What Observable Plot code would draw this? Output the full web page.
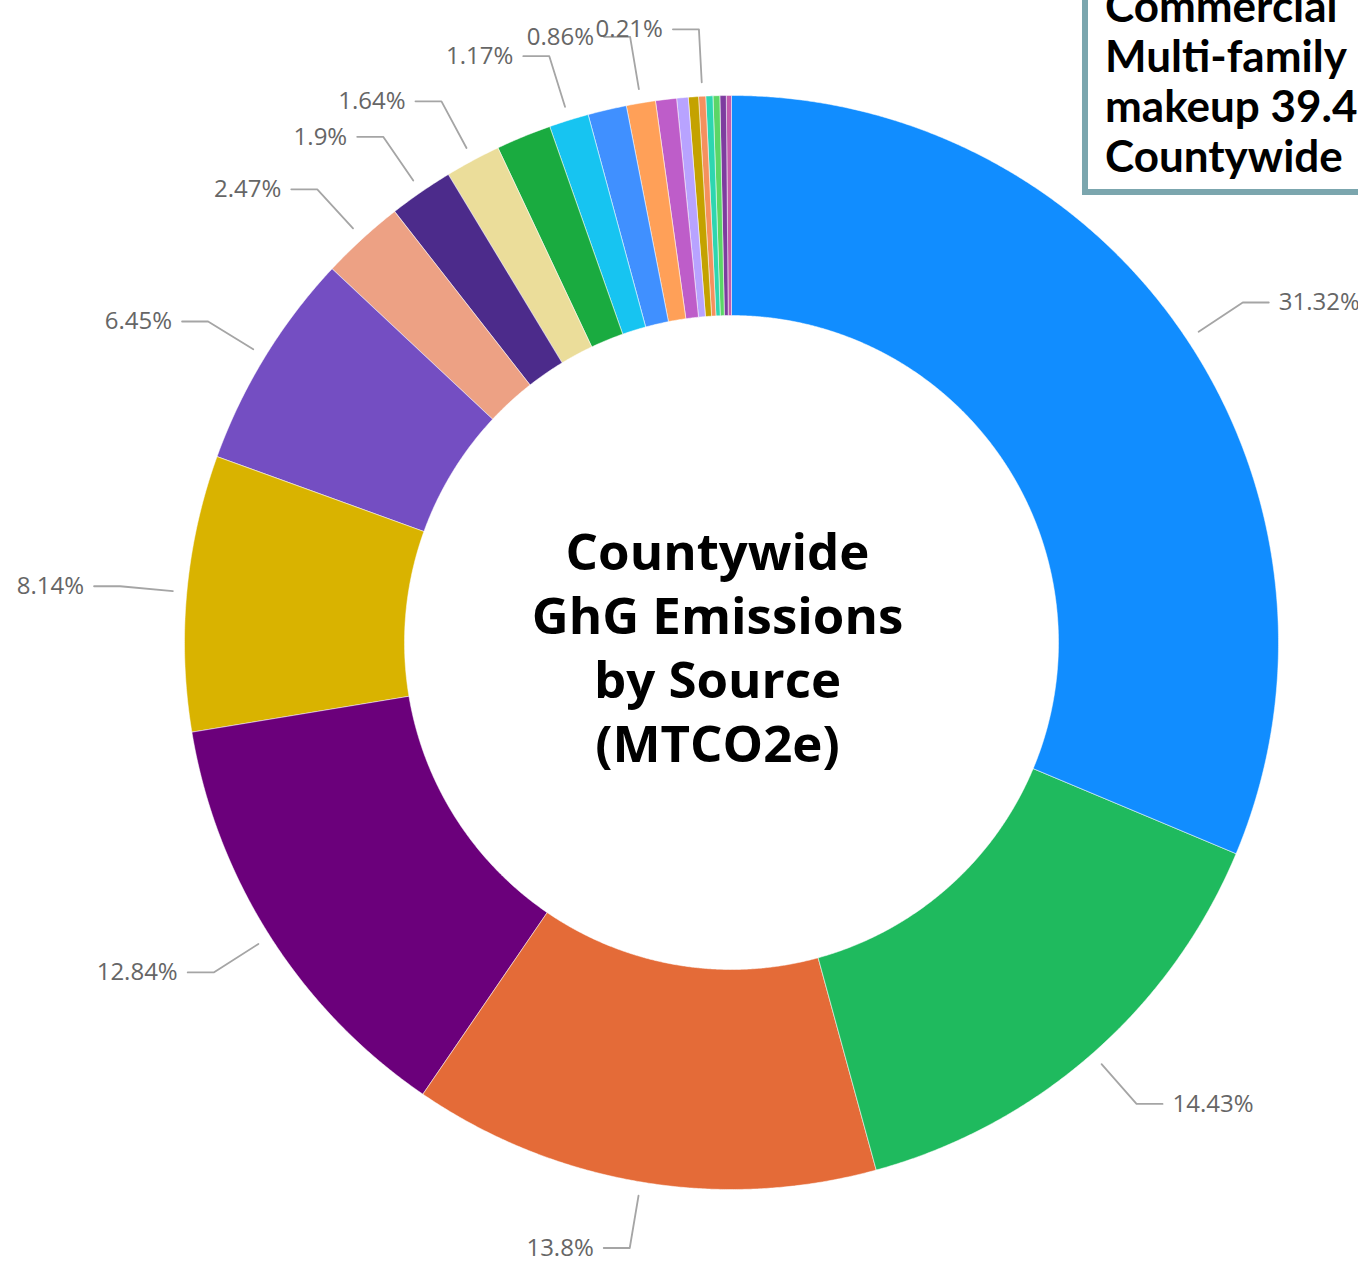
<!DOCTYPE html>
<html>
<head>
<meta charset="utf-8">
<script src="https://cdn.jsdelivr.net/npm/d3@7"></script>
<script src="https://cdn.jsdelivr.net/npm/@observablehq/plot@0.6"></script>
<style>
  html, body { margin: 0; padding: 0; background: #fff; }
  body { width: 1358px; height: 1268px; overflow: hidden; position: relative; }
  #chart { position: absolute; left: 0; top: 0; }
  .note {
    position: absolute; left: 1082px; top: -40px; width: 420px; height: 235px;
    box-sizing: border-box; border: 6px solid #7ba6ae; background: #fff;
    padding: 14px 0 0 17px; font: 700 44px/50px Lato, sans-serif; color: #000;
    white-space: nowrap;
  }
</style>
</head>
<body>
<div id="chart"></div>
<div class="note">Commercial<br>Multi-family<br>makeup 39.4%<br>Countywide</div>
<script>
// Emission sources, largest first (share of countywide MTCO2e, %)
const sources = [
  "Source 1", "Source 2", "Source 3", "Source 4", "Source 5", "Source 6", "Source 7",
  "Source 8", "Source 9", "Source 10", "Source 11", "Source 12", "Source 13", "Source 14",
  "Source 15", "Source 16", "Source 17", "Source 18", "Source 19", "Source 20", "Source 21"
];
const shares = [
  31.32, 14.43, 13.8, 12.84, 8.14, 6.45, 2.47,
  1.9, 1.64, 1.63, 1.17, 1.14, 0.86, 0.62,
  0.34, 0.30, 0.21, 0.21, 0.20, 0.19, 0.14
];
const colors = [
  "#118dff", "#1fba5e", "#e46b38", "#6b007b", "#d9b300", "#744ec2", "#eda184",
  "#4c2b8b", "#ebdd9a", "#1aab40", "#17c4f1", "#4090ff", "#ffa058", "#be5dc9",
  "#b8a3ff", "#c4a200", "#f5905e", "#2ed6b0", "#5bd667", "#7e3c9f", "#c45aae"
];
// which slices carry a data label
const showLabel = [
  true, true, true, true, true, true, true,
  true, true, false, true, false, true, false,
  false, false, true, false, false, false, false
];
const title = "Countywide\nGhG Emissions\nby Source\n(MTCO2e)";

// ring geometry (in plot units, where one unit is one pixel)
const R_OUT = 547, R_IN = 327;
const R_LEAD0 = 561, R_LEAD1 = 614, RUN = 26, GAP = 10;

const total = d3.sum(shares);
let acc = 0;
const slices = shares.map((v, i) => {
  const a0 = acc / total * 2 * Math.PI;
  acc += v;
  const a1 = acc / total * 2 * Math.PI;
  return {source: sources[i], value: v, a0, a1, mid: (a0 + a1) / 2, labelled: showLabel[i]};
});

// angle measured clockwise from 12 o'clock
const pt = (r, a) => [r * Math.sin(a), r * Math.cos(a)];

const ring = slices.flatMap(s => {
  const n = Math.max(2, Math.ceil((s.a1 - s.a0) / 0.004));
  const outer = d3.range(n + 1).map(k => pt(R_OUT, s.a0 + (s.a1 - s.a0) * k / n));
  const inner = d3.range(n, -1, -1).map(k => pt(R_IN, s.a0 + (s.a1 - s.a0) * k / n));
  return [...outer, ...inner].map(([x, y]) => ({source: s.source, x, y}));
});

const labelled = slices.filter(s => s.labelled).map(s => {
  const side = s.mid < Math.PI ? 1 : -1;
  const [x0, y0] = pt(R_LEAD0, s.mid);
  const [x1, y1] = pt(R_LEAD1, s.mid);
  return {
    ...s, side,
    pts: [[x0, y0], [x1, y1], [x1 + side * RUN, y1]],
    tx: x1 + side * (RUN + GAP), ty: y1
  };
});
const leaders = labelled.flatMap(s => s.pts.map(([x, y]) => ({source: s.source, x, y})));

const pct = d => `${+d.value.toFixed(2)}%`;
const labelStyle = {fontSize: 24, fontFamily: "'Open Sans', sans-serif", fontWeight: 400, fill: "#666666"};

const chart = Plot.plot({
  width: 1358,
  height: 1268,
  margin: 0,
  x: {domain: [-731, 627], axis: null},
  y: {domain: [-626, 642], axis: null},
  color: {domain: sources, range: colors},
  style: {background: "transparent", overflow: "hidden"},
  marks: [
    Plot.line(ring, {
      x: "x", y: "y", z: "source", fill: "source",
      stroke: "white", strokeWidth: 0.5, curve: "linear-closed"
    }),
    Plot.line(leaders, {x: "x", y: "y", z: "source", stroke: "#a5a5a5", strokeWidth: 1.8}),
    Plot.text(labelled.filter(d => d.side > 0), {x: "tx", y: "ty", text: pct, textAnchor: "start", ...labelStyle}),
    Plot.text(labelled.filter(d => d.side < 0), {x: "tx", y: "ty", text: pct, textAnchor: "end", ...labelStyle}),
    Plot.text([title], {
      x: 0, y: 0, text: d => d, dx: -14, dy: 3,
      fontSize: 51, fontWeight: 700, lineHeight: 1.25,
      fontFamily: "'Open Sans', sans-serif", fill: "#000"
    })
  ]
});
document.getElementById("chart").appendChild(chart);
</script>
</body>
</html>
